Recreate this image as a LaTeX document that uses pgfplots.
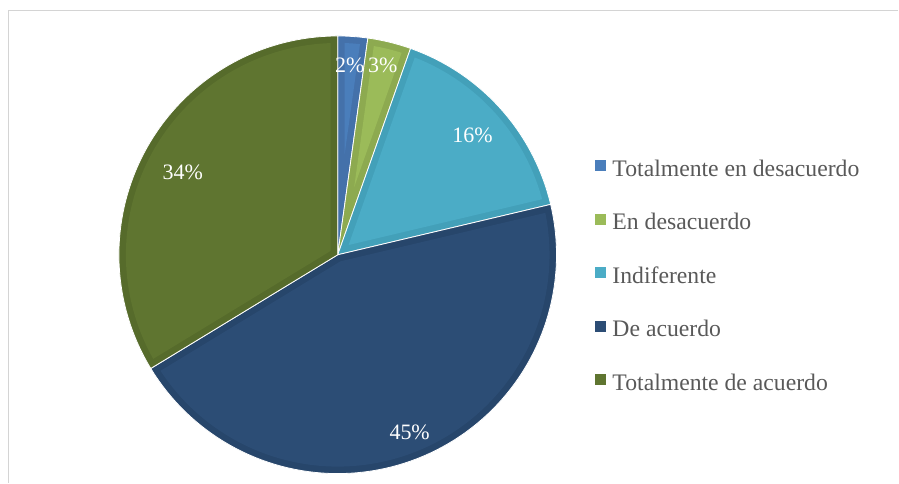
\documentclass[border=0pt]{standalone}
\usepackage{pgfplots}
\pgfplotsset{compat=1.18}
\usepackage{pgfplotstable}
\usepackage{fontspec}
\setmainfont{Liberation Serif}

\definecolor{c0}{HTML}{4A7EBB}\definecolor{c0d}{HTML}{4471AA}
\definecolor{c1}{HTML}{9BBB59}\definecolor{c1d}{HTML}{8DAA50}
\definecolor{c2}{HTML}{4BACC6}\definecolor{c2d}{HTML}{43A0B9}
\definecolor{c3}{HTML}{2C4D75}\definecolor{c3d}{HTML}{27466B}
\definecolor{c4}{HTML}{5F7530}\definecolor{c4d}{HTML}{566B2B}
\definecolor{legendgray}{HTML}{595959}
\definecolor{framegray}{HTML}{D4D4D4}

\pgfplotstableread[col sep=comma]{
label,value
Totalmente en desacuerdo,2.2
En desacuerdo,3.2
Indiferente,15.9
De acuerdo,45.0
Totalmente de acuerdo,33.7
}\data

\def\cx{338}\def\cy{228}\def\R{219}\def\inset{7}

\newcommand\slice[4]{%
  \pgfmathsetmacro\half{(#2-#1)/2}%
  \pgfmathsetmacro\mid{(#1+#2)/2}%
  \pgfmathsetmacro\apd{\inset/sin(\half)}%
  \pgfmathsetmacro\ax{\cx+\apd*cos(\mid)}%
  \pgfmathsetmacro\ay{\cy+\apd*sin(\mid)}%
  \pgfmathsetmacro\da{asin(\inset/(\R-\inset))}%
  \pgfmathsetmacro\aa{#1+\da}%
  \pgfmathsetmacro\ab{#2-\da}%
  \pgfmathsetmacro\Ri{\R-\inset}%
  \edef\doit{%
    \noexpand\addplot[forget plot, fill=#3, draw=white, line width=0.8pt, domain=#1:#2, samples=90, variable=\noexpand\t]
      ({\cx+\R*cos(\noexpand\t)},{\cy+\R*sin(\noexpand\t)}) -- (axis cs:\cx,\cy) -- cycle;
    \noexpand\addplot[forget plot, fill=#4, draw=none, domain=\aa:\ab, samples=90, variable=\noexpand\t]
      ({\cx+\Ri*cos(\noexpand\t)},{\cy+\Ri*sin(\noexpand\t)}) -- (axis cs:\ax,\ay) -- cycle;
  }%
  \doit
}

\begin{document}
\begin{tikzpicture}
\begin{axis}[
  x=1pt, y=1pt, xmin=0, xmax=899, ymin=0, ymax=483,
  scale only axis, hide axis, clip=false,
  legend image code/.code={\fill[#1] (0pt,-2.5pt) rectangle (11pt,8.5pt);},
  legend style={at={(axis cs:595,325)}, anchor=north west, draw=none, fill=none,
    inner sep=0pt, outer sep=0pt, row sep=31.5pt,
    font=\fontsize{23.7}{28}\selectfont, text=legendgray,
    /tikz/every odd column/.append style={column sep=5pt}},
  legend cell align=left,
]
\path (axis cs:0,0) rectangle (axis cs:899,483);
\xdef\cumA{0}
\pgfplotsforeachungrouped \i in {0,...,4}{%
  \pgfplotstablegetelem{\i}{value}\of\data
  \pgfmathsetmacro\cumB{\cumA+\pgfplotsretval}%
  \pgfmathsetmacro\sA{90-3.6*\cumB}%
  \pgfmathsetmacro\sB{90-3.6*\cumA}%
  \slice{\sA}{\sB}{c\i d}{c\i}%
  \xdef\cumA{\cumB}%
}
\addlegendimage{fill=c0, draw=none}\addlegendentry{Totalmente en desacuerdo}
\addlegendimage{fill=c1, draw=none}\addlegendentry{En desacuerdo}
\addlegendimage{fill=c2, draw=none}\addlegendentry{Indiferente}
\addlegendimage{fill=c3, draw=none}\addlegendentry{De acuerdo}
\addlegendimage{fill=c4, draw=none}\addlegendentry{Totalmente de acuerdo}

\begin{scope}[every node/.style={text=white, font=\fontsize{22}{26}\selectfont, inner sep=0pt}]
\node at (axis cs:350,418) {2\%};
\node at (axis cs:383,418) {3\%};
\node at (axis cs:473,348) {16\%};
\node at (axis cs:183,311) {34\%};
\node at (axis cs:410,50) {45\%};
\end{scope}

\draw[framegray, line width=1.5pt] (axis cs:8.5,0) -- (axis cs:8.5,472.5) -- (axis cs:899,472.5);
\end{axis}
\end{tikzpicture}
\end{document}
